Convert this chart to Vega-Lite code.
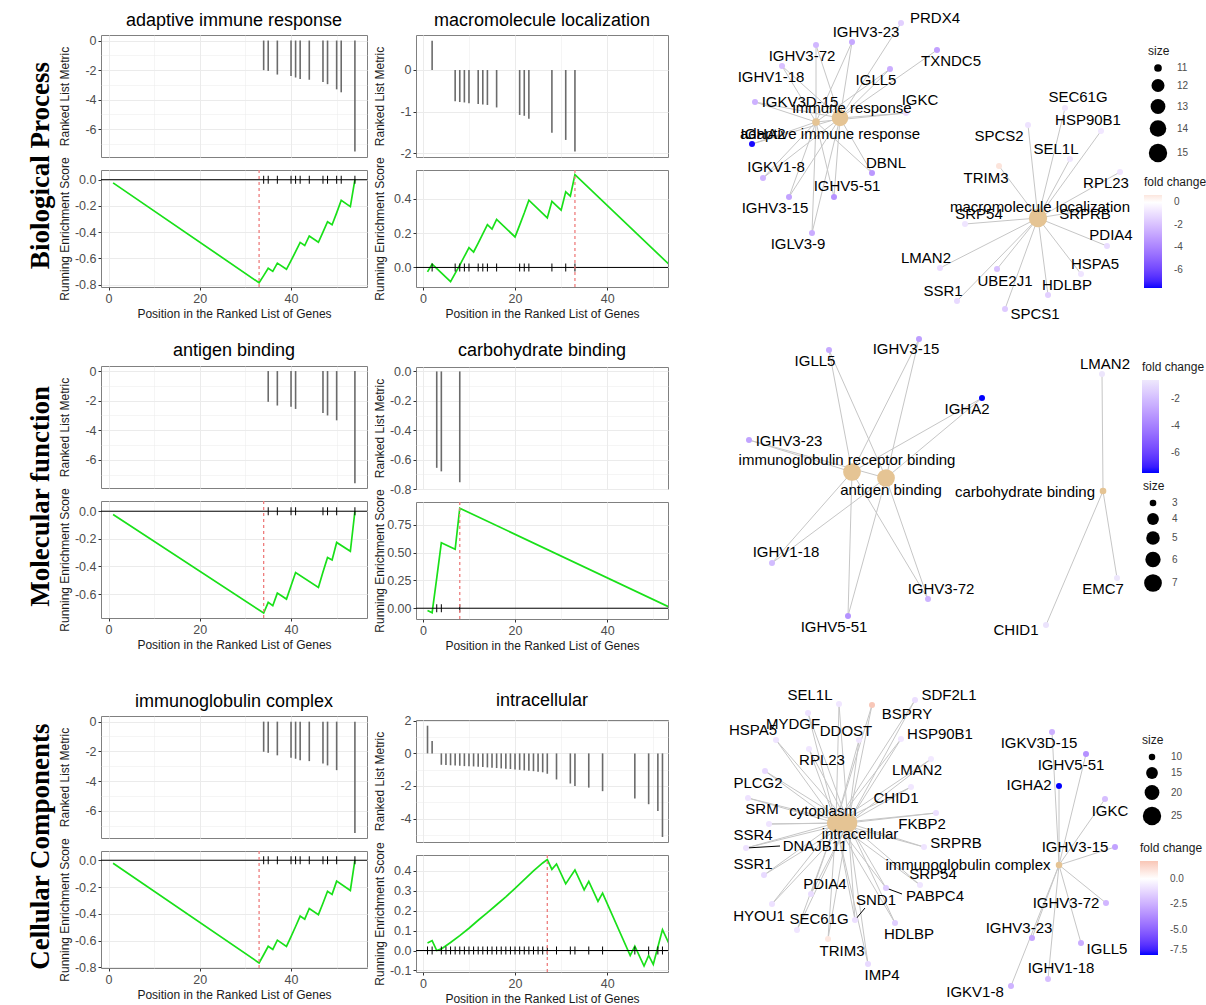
{
"$schema": "https://vega.github.io/schema/vega-lite/v6.json",
"background": "white",
"padding": {"left": 26, "top": 11, "right": 5, "bottom": 0},
"config": {
  "font": "Liberation Sans",
  "view": {"stroke": "#808080"},
  "axis": {"labelFont": "Liberation Sans", "titleFont": "Liberation Sans", "labelFontSize": 12.5, "labelColor": "#4D4D4D", "titleFontSize": 12, "titleFontWeight": "normal", "titleColor": "#1A1A1A", "tickColor": "#333333", "tickSize": 3, "domain": false, "gridColor": "#EBEBEB", "labelPadding": 2, "titlePadding": 4, "labelOverlap": false},
  "axisY": {"titleX": -30},
  "title": {"font": "Liberation Sans", "fontSize": 18, "fontWeight": "normal", "color": "#000000"},
  "legend": {"titleFont": "Liberation Sans", "labelFont": "Liberation Sans", "titleFontSize": 12, "titleFontWeight": "normal", "titleColor": "#1A1A1A", "labelFontSize": 10, "labelColor": "#4D4D4D", "gradientStrokeWidth": 0}
},
"datasets": {
  "a1r": [{"pos":34,"m":-2.0},{"pos":35,"m":-2.05},{"pos":37,"m":-2.3},{"pos":40,"m":-2.4},{"pos":41,"m":-2.5},{"pos":42,"m":-2.6},{"pos":44,"m":-2.65},{"pos":47,"m":-2.8},{"pos":48,"m":-2.95},{"pos":50,"m":-3.3},{"pos":51,"m":-3.5},{"pos":54,"m":-7.5}],
  "a1e": [{"pos":1,"es":-0.024},{"pos":33,"es":-0.786},{"pos":34,"es":-0.731},{"pos":35,"es":-0.675},{"pos":36,"es":-0.699},{"pos":37,"es":-0.636},{"pos":39,"es":-0.683},{"pos":40,"es":-0.617},{"pos":41,"es":-0.549},{"pos":42,"es":-0.478},{"pos":43,"es":-0.502},{"pos":44,"es":-0.429},{"pos":46,"es":-0.477},{"pos":47,"es":-0.40},{"pos":48,"es":-0.32},{"pos":49,"es":-0.343},{"pos":50,"es":-0.253},{"pos":51,"es":-0.157},{"pos":53,"es":-0.205},{"pos":54,"es":0}],
  "b1r": [{"pos":2,"m":0.70},{"pos":7,"m":-0.75},{"pos":8,"m":-0.77},{"pos":9,"m":-0.78},{"pos":10,"m":-0.80},{"pos":12,"m":-0.82},{"pos":13,"m":-0.83},{"pos":14,"m":-0.84},{"pos":16,"m":-0.90},{"pos":21,"m":-1.08},{"pos":22,"m":-1.10},{"pos":23,"m":-1.17},{"pos":28,"m":-1.51},{"pos":31,"m":-1.68},{"pos":33,"m":-1.96}],
  "b1e": [{"pos":1,"es":-0.026},{"pos":2,"es":0.019},{"pos":6,"es":-0.083},{"pos":7,"es":-0.035},{"pos":8,"es":0.014},{"pos":9,"es":0.064},{"pos":10,"es":0.115},{"pos":11,"es":0.09},{"pos":12,"es":0.142},{"pos":13,"es":0.195},{"pos":14,"es":0.249},{"pos":15,"es":0.223},{"pos":16,"es":0.28},{"pos":20,"es":0.178},{"pos":21,"es":0.247},{"pos":22,"es":0.317},{"pos":23,"es":0.392},{"pos":27,"es":0.289},{"pos":28,"es":0.385},{"pos":30,"es":0.334},{"pos":31,"es":0.441},{"pos":32,"es":0.416},{"pos":33,"es":0.541},{"pos":54,"es":0.003}],
  "a2r": [{"pos":35,"m":-2.08},{"pos":37,"m":-2.33},{"pos":40,"m":-2.42},{"pos":41,"m":-2.56},{"pos":47,"m":-2.83},{"pos":48,"m":-3.0},{"pos":50,"m":-3.33},{"pos":54,"m":-7.58}],
  "a2e": [{"pos":1,"es":-0.024},{"pos":34,"es":-0.737},{"pos":35,"es":-0.66},{"pos":36,"es":-0.684},{"pos":37,"es":-0.593},{"pos":39,"es":-0.636},{"pos":40,"es":-0.54},{"pos":41,"es":-0.444},{"pos":46,"es":-0.552},{"pos":47,"es":-0.44},{"pos":48,"es":-0.335},{"pos":49,"es":-0.353},{"pos":50,"es":-0.226},{"pos":53,"es":-0.29},{"pos":54,"es":0}],
  "b2r": [{"pos":3,"m":-0.656},{"pos":4,"m":-0.68},{"pos":8,"m":-0.754}],
  "b2e": [{"pos":1,"es":-0.02},{"pos":2,"es":-0.04},{"pos":3,"es":0.27},{"pos":4,"es":0.59},{"pos":7,"es":0.53},{"pos":8,"es":0.90},{"pos":54,"es":0}],
  "a3r": [{"pos":34,"m":-2.03},{"pos":35,"m":-2.1},{"pos":37,"m":-2.27},{"pos":40,"m":-2.43},{"pos":41,"m":-2.5},{"pos":42,"m":-2.6},{"pos":44,"m":-2.66},{"pos":47,"m":-2.82},{"pos":48,"m":-2.95},{"pos":50,"m":-3.27},{"pos":54,"m":-7.5}],
  "a3e": [{"pos":1,"es":-0.023},{"pos":33,"es":-0.767},{"pos":34,"es":-0.706},{"pos":35,"es":-0.643},{"pos":36,"es":-0.666},{"pos":37,"es":-0.597},{"pos":39,"es":-0.644},{"pos":40,"es":-0.571},{"pos":41,"es":-0.495},{"pos":42,"es":-0.417},{"pos":43,"es":-0.44},{"pos":44,"es":-0.36},{"pos":46,"es":-0.406},{"pos":47,"es":-0.321},{"pos":48,"es":-0.232},{"pos":49,"es":-0.255},{"pos":50,"es":-0.156},{"pos":53,"es":-0.226},{"pos":54,"es":0}],
  "b3r": [{"pos":1,"m":1.70},{"pos":2,"m":0.76},{"pos":4,"m":-0.70},{"pos":5,"m":-0.72},{"pos":6,"m":-0.73},{"pos":7,"m":-0.75},{"pos":8,"m":-0.76},{"pos":9,"m":-0.78},{"pos":10,"m":-0.79},{"pos":11,"m":-0.80},{"pos":12,"m":-0.82},{"pos":13,"m":-0.84},{"pos":14,"m":-0.86},{"pos":15,"m":-0.88},{"pos":16,"m":-0.90},{"pos":17,"m":-0.92},{"pos":18,"m":-0.94},{"pos":19,"m":-0.96},{"pos":20,"m":-0.99},{"pos":21,"m":-1.01},{"pos":22,"m":-1.04},{"pos":23,"m":-1.06},{"pos":24,"m":-1.09},{"pos":25,"m":-1.12},{"pos":26,"m":-1.16},{"pos":27,"m":-1.25},{"pos":29,"m":-1.6},{"pos":32,"m":-1.85},{"pos":33,"m":-2.0},{"pos":36,"m":-2.1},{"pos":39,"m":-2.32},{"pos":46,"m":-2.77},{"pos":49,"m":-3.12},{"pos":51,"m":-3.53},{"pos":52,"m":-5.13}],
  "b3e": [{"pos":1,"es":0.038},{"pos":2,"es":0.05},{"pos":3,"es":0.0},{"pos":4,"es":0.008},{"pos":6,"es":0.04},{"pos":8,"es":0.075},{"pos":10,"es":0.112},{"pos":12,"es":0.152},{"pos":14,"es":0.19},{"pos":16,"es":0.23},{"pos":18,"es":0.27},{"pos":20,"es":0.312},{"pos":22,"es":0.356},{"pos":24,"es":0.40},{"pos":26,"es":0.44},{"pos":27,"es":0.457},{"pos":28,"es":0.408},{"pos":29,"es":0.435},{"pos":31,"es":0.335},{"pos":32,"es":0.37},{"pos":33,"es":0.405},{"pos":35,"es":0.305},{"pos":36,"es":0.347},{"pos":38,"es":0.247},{"pos":39,"es":0.288},{"pos":45,"es":-0.025},{"pos":46,"es":0.022},{"pos":48,"es":-0.078},{"pos":49,"es":-0.025},{"pos":50,"es":-0.07},{"pos":51,"es":0.018},{"pos":52,"es":0.105},{"pos":54,"es":0.005}],
  "n1": [
    {"id":"immune response","kind":"hub","x":837,"y":117,"lx":849,"ly":107,"n":14},
    {"id":"adaptive immune response","kind":"hub","x":813,"y":121,"lx":827,"ly":133,"n":11},
    {"id":"macromolecule localization","kind":"hub","x":1035,"y":217,"lx":1037,"ly":206,"n":15},
    {"id":"PRDX4","kind":"gene","x":898,"y":22,"lx":932,"ly":17,"fc":-1.5},
    {"id":"IGHV3-23","kind":"gene","x":849,"y":41,"lx":863,"ly":31,"fc":-2.8},
    {"id":"IGHV3-72","kind":"gene","x":813,"y":44,"lx":799,"ly":55,"fc":-2.3},
    {"id":"TXNDC5","kind":"gene","x":934,"y":49,"lx":948,"ly":60,"fc":-3.0},
    {"id":"IGHV1-18","kind":"gene","x":779,"y":65,"lx":768,"ly":76,"fc":-2.0},
    {"id":"IGLL5","kind":"gene","x":887,"y":68,"lx":873,"ly":79,"fc":-2.6},
    {"id":"IGKV3D-15","kind":"gene","x":752,"y":101,"lx":797,"ly":101,"fc":-2.5},
    {"id":"IGKC","kind":"gene","x":903,"y":112,"lx":917,"ly":99,"fc":-1.0},
    {"id":"DBNL","kind":"gene","x":869,"y":172,"lx":883,"ly":162,"fc":-3.3},
    {"id":"IGHA2","kind":"gene","x":749,"y":143,"lx":760,"ly":133,"fc":-7.5},
    {"id":"IGKV1-8","kind":"gene","x":760,"y":177,"lx":773,"ly":166,"fc":-2.4},
    {"id":"IGHV5-51","kind":"gene","x":831,"y":196,"lx":844,"ly":185,"fc":-3.5},
    {"id":"IGHV3-15","kind":"gene","x":786,"y":196,"lx":772,"ly":207,"fc":-2.95},
    {"id":"IGLV3-9","kind":"gene","x":809,"y":232,"lx":795,"ly":243,"fc":-2.65},
    {"id":"SEC61G","kind":"gene","x":1062,"y":107,"lx":1075,"ly":96,"fc":-0.8},
    {"id":"HSP90B1","kind":"gene","x":1098,"y":130,"lx":1085,"ly":119,"fc":-0.75},
    {"id":"SPCS2","kind":"gene","x":1025,"y":124,"lx":996,"ly":135,"fc":-0.9},
    {"id":"SEL1L","kind":"gene","x":1067,"y":158,"lx":1053,"ly":148,"fc":-0.77},
    {"id":"TRIM3","kind":"gene","x":996,"y":165,"lx":983,"ly":177,"fc":0.7},
    {"id":"RPL23","kind":"gene","x":1117,"y":171,"lx":1103,"ly":182,"fc":-0.78},
    {"id":"SRP54","kind":"gene","x":962,"y":223,"lx":976,"ly":213,"fc":-0.82},
    {"id":"SRPRB","kind":"gene","x":1090,"y":208,"lx":1082,"ly":213,"fc":-0.83},
    {"id":"PDIA4","kind":"gene","x":1104,"y":245,"lx":1108,"ly":234,"fc":-1.1},
    {"id":"LMAN2","kind":"gene","x":937,"y":267,"lx":923,"ly":257,"fc":-1.08},
    {"id":"HSPA5","kind":"gene","x":1078,"y":273,"lx":1092,"ly":263,"fc":-0.84},
    {"id":"UBE2J1","kind":"gene","x":994,"y":268,"lx":1002,"ly":280,"fc":-1.96},
    {"id":"SSR1","kind":"gene","x":954,"y":300,"lx":940,"ly":290,"fc":-1.17},
    {"id":"HDLBP","kind":"gene","x":1045,"y":294,"lx":1064,"ly":284,"fc":-1.51},
    {"id":"SPCS1","kind":"gene","x":1002,"y":308,"lx":1032,"ly":313,"fc":-1.68}
  ],
  "e1": [
    {"hub":"immune response","gene":"PRDX4"},{"hub":"immune response","gene":"IGHV3-23"},{"hub":"immune response","gene":"IGHV3-72"},{"hub":"immune response","gene":"TXNDC5"},{"hub":"immune response","gene":"IGHV1-18"},{"hub":"immune response","gene":"IGLL5"},{"hub":"immune response","gene":"IGKV3D-15"},{"hub":"immune response","gene":"IGKC"},{"hub":"immune response","gene":"DBNL"},{"hub":"immune response","gene":"IGHA2"},{"hub":"immune response","gene":"IGKV1-8"},{"hub":"immune response","gene":"IGHV5-51"},{"hub":"immune response","gene":"IGHV3-15"},{"hub":"immune response","gene":"IGLV3-9"},
    {"hub":"adaptive immune response","gene":"IGHV3-23"},{"hub":"adaptive immune response","gene":"IGHV3-72"},{"hub":"adaptive immune response","gene":"IGHV1-18"},{"hub":"adaptive immune response","gene":"IGLL5"},{"hub":"adaptive immune response","gene":"IGKV3D-15"},{"hub":"adaptive immune response","gene":"IGKC"},{"hub":"adaptive immune response","gene":"DBNL"},{"hub":"adaptive immune response","gene":"IGHA2"},{"hub":"adaptive immune response","gene":"IGKV1-8"},{"hub":"adaptive immune response","gene":"IGHV5-51"},{"hub":"adaptive immune response","gene":"IGHV3-15"},{"hub":"adaptive immune response","gene":"IGLV3-9"},
    {"hub":"macromolecule localization","gene":"SEC61G"},{"hub":"macromolecule localization","gene":"HSP90B1"},{"hub":"macromolecule localization","gene":"SPCS2"},{"hub":"macromolecule localization","gene":"SEL1L"},{"hub":"macromolecule localization","gene":"TRIM3"},{"hub":"macromolecule localization","gene":"RPL23"},{"hub":"macromolecule localization","gene":"SRP54"},{"hub":"macromolecule localization","gene":"SRPRB"},{"hub":"macromolecule localization","gene":"PDIA4"},{"hub":"macromolecule localization","gene":"LMAN2"},{"hub":"macromolecule localization","gene":"HSPA5"},{"hub":"macromolecule localization","gene":"UBE2J1"},{"hub":"macromolecule localization","gene":"SSR1"},{"hub":"macromolecule localization","gene":"HDLBP"},{"hub":"macromolecule localization","gene":"SPCS1"}
  ],
  "n2": [
    {"id":"immunoglobulin receptor binding","kind":"hub","x":849,"y":471,"lx":844,"ly":459,"n":7},
    {"id":"antigen binding","kind":"hub","x":883,"y":477,"lx":888,"ly":489,"n":7},
    {"id":"carbohydrate binding","kind":"hub","x":1100,"y":490,"lx":1022,"ly":491,"n":3},
    {"id":"IGLL5","kind":"gene","x":826,"y":349,"lx":812,"ly":360,"fc":-2.6},
    {"id":"IGHV3-15","kind":"gene","x":916,"y":338,"lx":903,"ly":348,"fc":-2.95},
    {"id":"IGHA2","kind":"gene","x":979,"y":397,"lx":964,"ly":408,"fc":-7.44},
    {"id":"IGHV3-23","kind":"gene","x":746,"y":439,"lx":786,"ly":440,"fc":-2.8},
    {"id":"IGHV1-18","kind":"gene","x":769,"y":562,"lx":783,"ly":551,"fc":-2.0},
    {"id":"IGHV3-72","kind":"gene","x":925,"y":598,"lx":938,"ly":588,"fc":-2.3},
    {"id":"IGHV5-51","kind":"gene","x":845,"y":615,"lx":831,"ly":626,"fc":-3.33},
    {"id":"LMAN2","kind":"gene","x":1099,"y":373,"lx":1102,"ly":363,"fc":-0.68},
    {"id":"EMC7","kind":"gene","x":1114,"y":577,"lx":1100,"ly":588,"fc":-0.66},
    {"id":"CHID1","kind":"gene","x":1043,"y":624,"lx":1013,"ly":629,"fc":-0.75}
  ],
  "e2": [
    {"hub":"immunoglobulin receptor binding","gene":"IGLL5"},{"hub":"immunoglobulin receptor binding","gene":"IGHV3-15"},{"hub":"immunoglobulin receptor binding","gene":"IGHA2"},{"hub":"immunoglobulin receptor binding","gene":"IGHV3-23"},{"hub":"immunoglobulin receptor binding","gene":"IGHV1-18"},{"hub":"immunoglobulin receptor binding","gene":"IGHV3-72"},{"hub":"immunoglobulin receptor binding","gene":"IGHV5-51"},
    {"hub":"antigen binding","gene":"IGLL5"},{"hub":"antigen binding","gene":"IGHV3-15"},{"hub":"antigen binding","gene":"IGHA2"},{"hub":"antigen binding","gene":"IGHV3-23"},{"hub":"antigen binding","gene":"IGHV1-18"},{"hub":"antigen binding","gene":"IGHV3-72"},{"hub":"antigen binding","gene":"IGHV5-51"},
    {"hub":"carbohydrate binding","gene":"LMAN2"},{"hub":"carbohydrate binding","gene":"EMC7"},{"hub":"carbohydrate binding","gene":"CHID1"}
  ],
  "n3": [
    {"id":"cytoplasm","kind":"hub","x":833,"y":822,"lx":820,"ly":810,"n":25},
    {"id":"intracellular","kind":"hub","x":845,"y":822,"lx":857,"ly":833,"n":26},
    {"id":"immunoglobulin complex","kind":"hub","x":1056,"y":864,"lx":965,"ly":864,"n":10},
    {"id":"SEL1L","kind":"gene","x":836,"y":703,"lx":807,"ly":694,"fc":-0.77},
    {"id":"SDF2L1","kind":"gene","x":912,"y":699,"lx":946,"ly":694,"fc":-1.0},
    {"id":"BSPRY","kind":"gene","x":869,"y":704,"lx":904,"ly":713,"fc":1.7},
    {"id":"MYDGF","kind":"gene","x":805,"y":712,"lx":790,"ly":723,"fc":-0.9},
    {"id":"HSPA5","kind":"gene","x":773,"y":739,"lx":750,"ly":729,"fc":-0.84},
    {"id":"DDOST","kind":"gene","x":856,"y":739,"lx":843,"ly":730,"fc":-0.8},
    {"id":"HSP90B1","kind":"gene","x":898,"y":738,"lx":937,"ly":733,"fc":-0.75},
    {"id":"RPL23","kind":"gene","x":806,"y":748,"lx":819,"ly":759,"fc":-0.78},
    {"id":"LMAN2","kind":"gene","x":928,"y":758,"lx":914,"ly":769,"fc":-0.68},
    {"id":"PLCG2","kind":"gene","x":762,"y":770,"lx":755,"ly":782,"fc":-1.2},
    {"id":"CHID1","kind":"gene","x":908,"y":786,"lx":893,"ly":797,"fc":-0.75},
    {"id":"SRM","kind":"gene","x":745,"y":797,"lx":759,"ly":808,"fc":-0.9},
    {"id":"FKBP2","kind":"gene","x":933,"y":812,"lx":919,"ly":823,"fc":-1.0},
    {"id":"SSR4","kind":"gene","x":766,"y":823,"lx":750,"ly":834,"fc":-0.85},
    {"id":"SRPRB","kind":"gene","x":921,"y":846,"lx":953,"ly":842,"fc":-0.83},
    {"id":"DNAJB11","kind":"gene","x":743,"y":847,"lx":812,"ly":845,"fc":-0.9,"ex":777,"ey":845},
    {"id":"SSR1","kind":"gene","x":761,"y":874,"lx":750,"ly":863,"fc":-1.17},
    {"id":"SRP54","kind":"gene","x":917,"y":884,"lx":930,"ly":873,"fc":-0.82},
    {"id":"PDIA4","kind":"gene","x":808,"y":893,"lx":822,"ly":883,"fc":-1.1},
    {"id":"PABPC4","kind":"gene","x":883,"y":887,"lx":932,"ly":895,"fc":-1.6,"ex":899,"ey":893},
    {"id":"SND1","kind":"gene","x":852,"y":919,"lx":873,"ly":899,"fc":-1.0,"ex":862,"ey":907},
    {"id":"HYOU1","kind":"gene","x":769,"y":903,"lx":756,"ly":915,"fc":-0.95},
    {"id":"SEC61G","kind":"gene","x":794,"y":929,"lx":816,"ly":918,"fc":-0.8},
    {"id":"HDLBP","kind":"gene","x":892,"y":922,"lx":906,"ly":933,"fc":-1.51},
    {"id":"TRIM3","kind":"gene","x":825,"y":938,"lx":839,"ly":950,"fc":0.7},
    {"id":"IMP4","kind":"gene","x":865,"y":963,"lx":879,"ly":974,"fc":-1.2},
    {"id":"IGKV3D-15","kind":"gene","x":1049,"y":731,"lx":1036,"ly":742,"fc":-2.5},
    {"id":"IGHV5-51","kind":"gene","x":1083,"y":753,"lx":1068,"ly":764,"fc":-3.5},
    {"id":"IGHA2","kind":"gene","x":1056,"y":785,"lx":1026,"ly":784,"fc":-7.5},
    {"id":"IGKC","kind":"gene","x":1102,"y":798,"lx":1107,"ly":810,"fc":-2.05},
    {"id":"IGHV3-15","kind":"gene","x":1112,"y":846,"lx":1072,"ly":846,"fc":-2.95},
    {"id":"IGHV3-72","kind":"gene","x":1103,"y":902,"lx":1063,"ly":902,"fc":-2.3},
    {"id":"IGHV3-23","kind":"gene","x":1029,"y":937,"lx":1016,"ly":927,"fc":-2.8},
    {"id":"IGLL5","kind":"gene","x":1078,"y":942,"lx":1104,"ly":948,"fc":-2.6},
    {"id":"IGHV1-18","kind":"gene","x":1045,"y":978,"lx":1058,"ly":967,"fc":-2.0},
    {"id":"IGKV1-8","kind":"gene","x":1008,"y":985,"lx":972,"ly":991,"fc":-2.4}
  ],
  "e3": [
    {"hub":"cytoplasm","gene":"SEL1L"},{"hub":"cytoplasm","gene":"SDF2L1"},{"hub":"cytoplasm","gene":"BSPRY"},{"hub":"cytoplasm","gene":"MYDGF"},{"hub":"cytoplasm","gene":"HSPA5"},{"hub":"cytoplasm","gene":"DDOST"},{"hub":"cytoplasm","gene":"HSP90B1"},{"hub":"cytoplasm","gene":"RPL23"},{"hub":"cytoplasm","gene":"LMAN2"},{"hub":"cytoplasm","gene":"PLCG2"},{"hub":"cytoplasm","gene":"CHID1"},{"hub":"cytoplasm","gene":"SRM"},{"hub":"cytoplasm","gene":"FKBP2"},{"hub":"cytoplasm","gene":"SSR4"},{"hub":"cytoplasm","gene":"SRPRB"},{"hub":"cytoplasm","gene":"DNAJB11"},{"hub":"cytoplasm","gene":"SSR1"},{"hub":"cytoplasm","gene":"SRP54"},{"hub":"cytoplasm","gene":"PDIA4"},{"hub":"cytoplasm","gene":"PABPC4"},{"hub":"cytoplasm","gene":"SND1"},{"hub":"cytoplasm","gene":"HYOU1"},{"hub":"cytoplasm","gene":"SEC61G"},{"hub":"cytoplasm","gene":"HDLBP"},{"hub":"cytoplasm","gene":"TRIM3"},{"hub":"cytoplasm","gene":"IMP4"},
    {"hub":"intracellular","gene":"SEL1L"},{"hub":"intracellular","gene":"SDF2L1"},{"hub":"intracellular","gene":"BSPRY"},{"hub":"intracellular","gene":"MYDGF"},{"hub":"intracellular","gene":"HSPA5"},{"hub":"intracellular","gene":"DDOST"},{"hub":"intracellular","gene":"HSP90B1"},{"hub":"intracellular","gene":"RPL23"},{"hub":"intracellular","gene":"LMAN2"},{"hub":"intracellular","gene":"PLCG2"},{"hub":"intracellular","gene":"CHID1"},{"hub":"intracellular","gene":"SRM"},{"hub":"intracellular","gene":"FKBP2"},{"hub":"intracellular","gene":"SSR4"},{"hub":"intracellular","gene":"SRPRB"},{"hub":"intracellular","gene":"DNAJB11"},{"hub":"intracellular","gene":"SSR1"},{"hub":"intracellular","gene":"SRP54"},{"hub":"intracellular","gene":"PDIA4"},{"hub":"intracellular","gene":"PABPC4"},{"hub":"intracellular","gene":"SND1"},{"hub":"intracellular","gene":"HYOU1"},{"hub":"intracellular","gene":"SEC61G"},{"hub":"intracellular","gene":"HDLBP"},{"hub":"intracellular","gene":"TRIM3"},{"hub":"intracellular","gene":"IMP4"},
    {"hub":"immunoglobulin complex","gene":"IGKV3D-15"},{"hub":"immunoglobulin complex","gene":"IGHV5-51"},{"hub":"immunoglobulin complex","gene":"IGHA2"},{"hub":"immunoglobulin complex","gene":"IGKC"},{"hub":"immunoglobulin complex","gene":"IGHV3-15"},{"hub":"immunoglobulin complex","gene":"IGHV3-72"},{"hub":"immunoglobulin complex","gene":"IGHV3-23"},{"hub":"immunoglobulin complex","gene":"IGLL5"},{"hub":"immunoglobulin complex","gene":"IGHV1-18"},{"hub":"immunoglobulin complex","gene":"IGKV1-8"}
  ]
},
"spacing": 4,
"resolve": {"scale": {"color": "independent", "size": "independent"}},
"hconcat": [
 {"spacing": 41, "vconcat": [
  {"spacing": 21, "vconcat": [
   {"spacing": 13, "bounds": "flush", "title": {"text": "Biological  Process", "orient": "left", "anchor": "middle", "font": "Liberation Serif", "fontSize": 27, "fontWeight": "bold", "color": "#000000", "offset": 3},
    "vconcat": [
     {"width": 266, "height": 122, "title": {"text": "adaptive immune response", "anchor": "middle", "frame": "group", "offset": 5},
      "data": {"name": "a1r"}, "mark": {"type": "rule", "color": "#6B6B6B", "strokeWidth": 1.6},
      "encoding": {
       "x": {"field": "pos", "type": "quantitative", "scale": {"domain": [-1.65, 56.65], "nice": false, "zero": false}, "axis": {"title": null, "labels": false, "ticks": false, "values": [0,10,20,30,40,50], "gridWidth": {"condition": {"test": "datum.value % 20 === 0", "value": 1}, "value": 0.5}}},
       "y": {"field": "m", "type": "quantitative", "scale": {"domain": [-7.875, 0.375], "nice": false, "zero": false}, "axis": {"title": "Ranked List Metric", "labelOverlap": false, "values": [-7,-6,-5,-4,-3,-2,-1,0], "format": "d", "labelExpr": "datum.value % 2 === 0 ? replace(datum.label, '\u2212', '-') : ''", "gridWidth": {"condition": {"test": "datum.value % 2 === 0", "value": 1}, "value": 0.5}, "tickOpacity": {"condition": {"test": "datum.value % 2 === 0", "value": 1}, "value": 0}}},
       "y2": {"datum": 0}}},
     {"width": 266, "height": 117, "layer": [
      {"data": {"name": "a1e"}, "mark": {"type": "line", "color": "#19E019", "strokeWidth": 1.7, "clip": true},
       "encoding": {
        "x": {"field": "pos", "type": "quantitative", "scale": {"domain": [-1.65, 56.65], "nice": false, "zero": false}, "axis": {"title": "Position in the Ranked List of Genes", "labelOverlap": false, "values": [0,10,20,30,40,50], "format": "d", "labelExpr": "datum.value % 20 === 0 ? datum.label : ''", "gridWidth": {"condition": {"test": "datum.value % 20 === 0", "value": 1}, "value": 0.5}, "tickOpacity": {"condition": {"test": "datum.value % 20 === 0", "value": 1}, "value": 0}}},
        "y": {"field": "es", "type": "quantitative", "scale": {"domain": [-0.818, 0.074], "nice": false, "zero": false}, "axis": {"title": "Running Enrichment Score", "labelOverlap": false, "values": [-0.8,-0.6,-0.4,-0.2,0], "format": ".1f", "labelExpr": "replace(datum.label, '\u2212', '-')"}}}},
      {"data": {"values": [{"z": 0}]}, "mark": {"type": "rule", "color": "#000000", "strokeWidth": 1}, "encoding": {"y": {"field": "z", "type": "quantitative", "axis": {"title": "Running Enrichment Score", "labelOverlap": false, "values": [-0.8,-0.6,-0.4,-0.2,0], "format": ".1f", "labelExpr": "replace(datum.label, '\u2212', '-')"}}}},
      {"data": {"name": "a1r"}, "mark": {"type": "tick", "orient": "vertical", "color": "#000000", "thickness": 1, "size": 8, "opacity": 1}, "encoding": {"x": {"field": "pos", "type": "quantitative"}, "y": {"datum": 0, "axis": {"title": "Running Enrichment Score", "labelOverlap": false, "values": [-0.8,-0.6,-0.4,-0.2,0], "format": ".1f", "labelExpr": "replace(datum.label, '\u2212', '-')"}}}},
      {"data": {"values": [{"peak": 33}]}, "mark": {"type": "rule", "color": "#EE7D7D", "strokeDash": [3, 3], "strokeWidth": 1.3}, "encoding": {"x": {"field": "peak", "type": "quantitative"}}}
     ]}
    ]},
   {"spacing": 13, "bounds": "flush", "title": {"text": "Molecular function", "orient": "left", "anchor": "middle", "font": "Liberation Serif", "fontSize": 27, "fontWeight": "bold", "color": "#000000", "offset": 3},
    "vconcat": [
     {"width": 266, "height": 122, "title": {"text": "antigen binding", "anchor": "middle", "frame": "group", "offset": 5},
      "data": {"name": "a2r"}, "mark": {"type": "rule", "color": "#6B6B6B", "strokeWidth": 1.6},
      "encoding": {
       "x": {"field": "pos", "type": "quantitative", "scale": {"domain": [-1.65, 56.65], "nice": false, "zero": false}, "axis": {"title": null, "labels": false, "ticks": false, "values": [0,10,20,30,40,50], "gridWidth": {"condition": {"test": "datum.value % 20 === 0", "value": 1}, "value": 0.5}}},
       "y": {"field": "m", "type": "quantitative", "scale": {"domain": [-7.9, 0.34], "nice": false, "zero": false}, "axis": {"title": "Ranked List Metric", "labelOverlap": false, "values": [-7,-6,-5,-4,-3,-2,-1,0], "format": "d", "labelExpr": "datum.value % 2 === 0 ? replace(datum.label, '\u2212', '-') : ''", "gridWidth": {"condition": {"test": "datum.value % 2 === 0", "value": 1}, "value": 0.5}, "tickOpacity": {"condition": {"test": "datum.value % 2 === 0", "value": 1}, "value": 0}}},
       "y2": {"datum": 0}}},
     {"width": 266, "height": 117, "layer": [
      {"data": {"name": "a2e"}, "mark": {"type": "line", "color": "#19E019", "strokeWidth": 1.7, "clip": true},
       "encoding": {
        "x": {"field": "pos", "type": "quantitative", "scale": {"domain": [-1.65, 56.65], "nice": false, "zero": false}, "axis": {"title": "Position in the Ranked List of Genes", "labelOverlap": false, "values": [0,10,20,30,40,50], "format": "d", "labelExpr": "datum.value % 20 === 0 ? datum.label : ''", "gridWidth": {"condition": {"test": "datum.value % 20 === 0", "value": 1}, "value": 0.5}, "tickOpacity": {"condition": {"test": "datum.value % 20 === 0", "value": 1}, "value": 0}}},
        "y": {"field": "es", "type": "quantitative", "scale": {"domain": [-0.773, 0.074], "nice": false, "zero": false}, "axis": {"title": "Running Enrichment Score", "labelOverlap": false, "values": [-0.6,-0.4,-0.2,0], "format": ".1f", "labelExpr": "replace(datum.label, '\u2212', '-')"}}}},
      {"data": {"values": [{"z": 0}]}, "mark": {"type": "rule", "color": "#000000", "strokeWidth": 1}, "encoding": {"y": {"field": "z", "type": "quantitative", "axis": {"title": "Running Enrichment Score", "labelOverlap": false, "values": [-0.6,-0.4,-0.2,0], "format": ".1f", "labelExpr": "replace(datum.label, '\u2212', '-')"}}}},
      {"data": {"name": "a2r"}, "mark": {"type": "tick", "orient": "vertical", "color": "#000000", "thickness": 1, "size": 8, "opacity": 1}, "encoding": {"x": {"field": "pos", "type": "quantitative"}, "y": {"datum": 0, "axis": {"title": "Running Enrichment Score", "labelOverlap": false, "values": [-0.6,-0.4,-0.2,0], "format": ".1f", "labelExpr": "replace(datum.label, '\u2212', '-')"}}}},
      {"data": {"values": [{"peak": 34}]}, "mark": {"type": "rule", "color": "#EE7D7D", "strokeDash": [3, 3], "strokeWidth": 1.3}, "encoding": {"x": {"field": "peak", "type": "quantitative"}}}
     ]}
    ]}
  ]},
  {"spacing": 13, "bounds": "flush", "title": {"text": "Cellular Components", "orient": "left", "anchor": "middle", "font": "Liberation Serif", "fontSize": 27, "fontWeight": "bold", "color": "#000000", "offset": 3},
   "vconcat": [
    {"width": 266, "height": 122, "title": {"text": "immunoglobulin complex", "anchor": "middle", "frame": "group", "offset": 5},
     "data": {"name": "a3r"}, "mark": {"type": "rule", "color": "#6B6B6B", "strokeWidth": 1.6},
     "encoding": {
      "x": {"field": "pos", "type": "quantitative", "scale": {"domain": [-1.65, 56.65], "nice": false, "zero": false}, "axis": {"title": null, "labels": false, "ticks": false, "values": [0,10,20,30,40,50], "gridWidth": {"condition": {"test": "datum.value % 20 === 0", "value": 1}, "value": 0.5}}},
      "y": {"field": "m", "type": "quantitative", "scale": {"domain": [-7.84, 0.38], "nice": false, "zero": false}, "axis": {"title": "Ranked List Metric", "labelOverlap": false, "values": [-7,-6,-5,-4,-3,-2,-1,0], "format": "d", "labelExpr": "datum.value % 2 === 0 ? replace(datum.label, '\u2212', '-') : ''", "gridWidth": {"condition": {"test": "datum.value % 2 === 0", "value": 1}, "value": 0.5}, "tickOpacity": {"condition": {"test": "datum.value % 2 === 0", "value": 1}, "value": 0}}},
      "y2": {"datum": 0}}},
    {"width": 266, "height": 117, "layer": [
     {"data": {"name": "a3e"}, "mark": {"type": "line", "color": "#19E019", "strokeWidth": 1.7, "clip": true},
      "encoding": {
       "x": {"field": "pos", "type": "quantitative", "scale": {"domain": [-1.65, 56.65], "nice": false, "zero": false}, "axis": {"title": "Position in the Ranked List of Genes", "labelOverlap": false, "values": [0,10,20,30,40,50], "format": "d", "labelExpr": "datum.value % 20 === 0 ? datum.label : ''", "gridWidth": {"condition": {"test": "datum.value % 20 === 0", "value": 1}, "value": 0.5}, "tickOpacity": {"condition": {"test": "datum.value % 20 === 0", "value": 1}, "value": 0}}},
       "y": {"field": "es", "type": "quantitative", "scale": {"domain": [-0.805, 0.069], "nice": false, "zero": false}, "axis": {"title": "Running Enrichment Score", "labelOverlap": false, "values": [-0.8,-0.6,-0.4,-0.2,0], "format": ".1f", "labelExpr": "replace(datum.label, '\u2212', '-')"}}}},
     {"data": {"values": [{"z": 0}]}, "mark": {"type": "rule", "color": "#000000", "strokeWidth": 1}, "encoding": {"y": {"field": "z", "type": "quantitative", "axis": {"title": "Running Enrichment Score", "labelOverlap": false, "values": [-0.8,-0.6,-0.4,-0.2,0], "format": ".1f", "labelExpr": "replace(datum.label, '\u2212', '-')"}}}},
     {"data": {"name": "a3r"}, "mark": {"type": "tick", "orient": "vertical", "color": "#000000", "thickness": 1, "size": 8, "opacity": 1}, "encoding": {"x": {"field": "pos", "type": "quantitative"}, "y": {"datum": 0, "axis": {"title": "Running Enrichment Score", "labelOverlap": false, "values": [-0.8,-0.6,-0.4,-0.2,0], "format": ".1f", "labelExpr": "replace(datum.label, '\u2212', '-')"}}}},
     {"data": {"values": [{"peak": 33}]}, "mark": {"type": "rule", "color": "#EE7D7D", "strokeDash": [3, 3], "strokeWidth": 1.3}, "encoding": {"x": {"field": "peak", "type": "quantitative"}}}
    ]}
   ]}
 ]},
 {"spacing": 39, "vconcat": [
  {"spacing": 21, "vconcat": [
   {"spacing": 13, "bounds": "flush", "vconcat": [
     {"width": 252, "height": 122, "title": {"text": "macromolecule localization", "anchor": "middle", "frame": "group", "offset": 5},
      "data": {"name": "b1r"}, "mark": {"type": "rule", "color": "#6B6B6B", "strokeWidth": 1.6},
      "encoding": {
       "x": {"field": "pos", "type": "quantitative", "scale": {"domain": [-1.5, 53.2], "nice": false, "zero": false}, "axis": {"title": null, "labels": false, "ticks": false, "values": [0,10,20,30,40,50], "gridWidth": {"condition": {"test": "datum.value % 20 === 0", "value": 1}, "value": 0.5}}},
       "y": {"field": "m", "type": "quantitative", "scale": {"domain": [-2.09, 0.84], "nice": false, "zero": false}, "axis": {"title": "Ranked List Metric", "labelOverlap": false, "values": [-2,-1.5,-1,-0.5,0,0.5], "format": "d", "labelExpr": "datum.value % 1 === 0 ? replace(datum.label, '\u2212', '-') : ''", "gridWidth": {"condition": {"test": "datum.value % 1 === 0", "value": 1}, "value": 0.5}, "tickOpacity": {"condition": {"test": "datum.value % 1 === 0", "value": 1}, "value": 0}}},
       "y2": {"datum": 0}}},
     {"width": 252, "height": 117, "layer": [
      {"data": {"name": "b1e"}, "mark": {"type": "line", "color": "#19E019", "strokeWidth": 1.7, "clip": true},
       "encoding": {
        "x": {"field": "pos", "type": "quantitative", "scale": {"domain": [-1.5, 53.2], "nice": false, "zero": false}, "axis": {"title": "Position in the Ranked List of Genes", "labelOverlap": false, "values": [0,10,20,30,40,50], "format": "d", "labelExpr": "datum.value % 20 === 0 ? datum.label : ''", "gridWidth": {"condition": {"test": "datum.value % 20 === 0", "value": 1}, "value": 0.5}, "tickOpacity": {"condition": {"test": "datum.value % 20 === 0", "value": 1}, "value": 0}}},
        "y": {"field": "es", "type": "quantitative", "scale": {"domain": [-0.114, 0.568], "nice": false, "zero": false}, "axis": {"title": "Running Enrichment Score", "labelOverlap": false, "values": [0,0.2,0.4], "format": ".1f", "labelExpr": "replace(datum.label, '\u2212', '-')"}}}},
      {"data": {"values": [{"z": 0}]}, "mark": {"type": "rule", "color": "#000000", "strokeWidth": 1}, "encoding": {"y": {"field": "z", "type": "quantitative", "axis": {"title": "Running Enrichment Score", "labelOverlap": false, "values": [0,0.2,0.4], "format": ".1f", "labelExpr": "replace(datum.label, '\u2212', '-')"}}}},
      {"data": {"name": "b1r"}, "mark": {"type": "tick", "orient": "vertical", "color": "#000000", "thickness": 1, "size": 8, "opacity": 1}, "encoding": {"x": {"field": "pos", "type": "quantitative"}, "y": {"datum": 0, "axis": {"title": "Running Enrichment Score", "labelOverlap": false, "values": [0,0.2,0.4], "format": ".1f", "labelExpr": "replace(datum.label, '\u2212', '-')"}}}},
      {"data": {"values": [{"peak": 33}]}, "mark": {"type": "rule", "color": "#EE7D7D", "strokeDash": [3, 3], "strokeWidth": 1.3}, "encoding": {"x": {"field": "peak", "type": "quantitative"}}}
     ]}
   ]},
   {"spacing": 13, "bounds": "flush", "vconcat": [
     {"width": 252, "height": 122, "title": {"text": "carbohydrate binding", "anchor": "middle", "frame": "group", "offset": 5},
      "data": {"name": "b2r"}, "mark": {"type": "rule", "color": "#6B6B6B", "strokeWidth": 1.6},
      "encoding": {
       "x": {"field": "pos", "type": "quantitative", "scale": {"domain": [-1.5, 53.2], "nice": false, "zero": false}, "axis": {"title": null, "labels": false, "ticks": false, "values": [0,10,20,30,40,50], "gridWidth": {"condition": {"test": "datum.value % 20 === 0", "value": 1}, "value": 0.5}}},
       "y": {"field": "m", "type": "quantitative", "scale": {"domain": [-0.8, 0.03], "nice": false, "zero": false}, "axis": {"title": "Ranked List Metric", "labelOverlap": false, "values": [-0.8,-0.7,-0.6,-0.5,-0.4,-0.3,-0.2,-0.1,0], "format": ".1f", "labelExpr": "indexof([-0.8,-0.6,-0.4,-0.2,0], datum.value) >= 0 ? replace(datum.label, '\u2212', '-') : ''", "gridWidth": {"condition": {"test": "indexof([-0.8,-0.6,-0.4,-0.2,0], datum.value) >= 0", "value": 1}, "value": 0.5}, "tickOpacity": {"condition": {"test": "indexof([-0.8,-0.6,-0.4,-0.2,0], datum.value) >= 0", "value": 1}, "value": 0}}},
       "y2": {"datum": 0}}},
     {"width": 252, "height": 117, "layer": [
      {"data": {"name": "b2e"}, "mark": {"type": "line", "color": "#19E019", "strokeWidth": 1.7, "clip": true},
       "encoding": {
        "x": {"field": "pos", "type": "quantitative", "scale": {"domain": [-1.5, 53.2], "nice": false, "zero": false}, "axis": {"title": "Position in the Ranked List of Genes", "labelOverlap": false, "values": [0,10,20,30,40,50], "format": "d", "labelExpr": "datum.value % 20 === 0 ? datum.label : ''", "gridWidth": {"condition": {"test": "datum.value % 20 === 0", "value": 1}, "value": 0.5}, "tickOpacity": {"condition": {"test": "datum.value % 20 === 0", "value": 1}, "value": 0}}},
        "y": {"field": "es", "type": "quantitative", "scale": {"domain": [-0.097, 0.956], "nice": false, "zero": false}, "axis": {"title": "Running Enrichment Score", "labelOverlap": false, "values": [0,0.25,0.5,0.75], "format": ".2f", "labelExpr": "replace(datum.label, '\u2212', '-')"}}}},
      {"data": {"values": [{"z": 0}]}, "mark": {"type": "rule", "color": "#000000", "strokeWidth": 1}, "encoding": {"y": {"field": "z", "type": "quantitative", "axis": {"title": "Running Enrichment Score", "labelOverlap": false, "values": [0,0.25,0.5,0.75], "format": ".2f", "labelExpr": "replace(datum.label, '\u2212', '-')"}}}},
      {"data": {"name": "b2r"}, "mark": {"type": "tick", "orient": "vertical", "color": "#000000", "thickness": 1, "size": 8, "opacity": 1}, "encoding": {"x": {"field": "pos", "type": "quantitative"}, "y": {"datum": 0, "axis": {"title": "Running Enrichment Score", "labelOverlap": false, "values": [0,0.25,0.5,0.75], "format": ".2f", "labelExpr": "replace(datum.label, '\u2212', '-')"}}}},
      {"data": {"values": [{"peak": 8}]}, "mark": {"type": "rule", "color": "#EE7D7D", "strokeDash": [3, 3], "strokeWidth": 1.3}, "encoding": {"x": {"field": "peak", "type": "quantitative"}}}
     ]}
   ]}
  ]},
  {"spacing": 13, "bounds": "flush", "vconcat": [
    {"width": 252, "height": 122, "title": {"text": "intracellular", "anchor": "middle", "frame": "group", "offset": 5},
     "data": {"name": "b3r"}, "mark": {"type": "rule", "color": "#6B6B6B", "strokeWidth": 1.6},
     "encoding": {
      "x": {"field": "pos", "type": "quantitative", "scale": {"domain": [-1.5, 53.2], "nice": false, "zero": false}, "axis": {"title": null, "labels": false, "ticks": false, "values": [0,10,20,30,40,50], "gridWidth": {"condition": {"test": "datum.value % 20 === 0", "value": 1}, "value": 0.5}}},
      "y": {"field": "m", "type": "quantitative", "scale": {"domain": [-5.44, 2.05], "nice": false, "zero": false}, "axis": {"title": "Ranked List Metric", "labelOverlap": false, "values": [-5,-4,-3,-2,-1,0,1,2], "format": "d", "labelExpr": "datum.value % 2 === 0 ? replace(datum.label, '\u2212', '-') : ''", "gridWidth": {"condition": {"test": "datum.value % 2 === 0", "value": 1}, "value": 0.5}, "tickOpacity": {"condition": {"test": "datum.value % 2 === 0", "value": 1}, "value": 0}}},
      "y2": {"datum": 0}}},
    {"width": 252, "height": 117, "layer": [
     {"data": {"name": "b3e"}, "mark": {"type": "line", "color": "#19E019", "strokeWidth": 1.7, "clip": true},
      "encoding": {
       "x": {"field": "pos", "type": "quantitative", "scale": {"domain": [-1.5, 53.2], "nice": false, "zero": false}, "axis": {"title": "Position in the Ranked List of Genes", "labelOverlap": false, "values": [0,10,20,30,40,50], "format": "d", "labelExpr": "datum.value % 20 === 0 ? datum.label : ''", "gridWidth": {"condition": {"test": "datum.value % 20 === 0", "value": 1}, "value": 0.5}, "tickOpacity": {"condition": {"test": "datum.value % 20 === 0", "value": 1}, "value": 0}}},
       "y": {"field": "es", "type": "quantitative", "scale": {"domain": [-0.108, 0.48], "nice": false, "zero": false}, "axis": {"title": "Running Enrichment Score", "labelOverlap": false, "values": [-0.1,0,0.1,0.2,0.3,0.4], "format": ".1f", "labelExpr": "replace(datum.label, '\u2212', '-')"}}}},
     {"data": {"values": [{"z": 0}]}, "mark": {"type": "rule", "color": "#000000", "strokeWidth": 1}, "encoding": {"y": {"field": "z", "type": "quantitative", "axis": {"title": "Running Enrichment Score", "labelOverlap": false, "values": [-0.1,0,0.1,0.2,0.3,0.4], "format": ".1f", "labelExpr": "replace(datum.label, '\u2212', '-')"}}}},
     {"data": {"name": "b3r"}, "mark": {"type": "tick", "orient": "vertical", "color": "#000000", "thickness": 1, "size": 8, "opacity": 1}, "encoding": {"x": {"field": "pos", "type": "quantitative"}, "y": {"datum": 0, "axis": {"title": "Running Enrichment Score", "labelOverlap": false, "values": [-0.1,0,0.1,0.2,0.3,0.4], "format": ".1f", "labelExpr": "replace(datum.label, '\u2212', '-')"}}}},
     {"data": {"values": [{"peak": 27}]}, "mark": {"type": "rule", "color": "#EE7D7D", "strokeDash": [3, 3], "strokeWidth": 1.3}, "encoding": {"x": {"field": "peak", "type": "quantitative"}}}
    ]}
  ]}
 ]},
 {"spacing": 5, "resolve": {"scale": {"color": "independent", "size": "independent"}}, "vconcat": [
  {"width": 460, "height": 295, "view": {"stroke": null}, "layer": [
    {"data": {"name": "e1"},
     "transform": [{"lookup": "hub", "from": {"data": {"name": "n1"}, "key": "id", "fields": ["x", "y"]}, "as": ["sx", "sy"]}, {"lookup": "gene", "from": {"data": {"name": "n1"}, "key": "id", "fields": ["x", "y"]}, "as": ["tx", "ty"]}],
     "mark": {"type": "rule", "color": "#C6C6C6", "strokeWidth": 1},
     "encoding": {"x": {"field": "sx", "type": "quantitative", "scale": {"domain": [670, 1130], "nice": false, "zero": false}, "axis": null}, "y": {"field": "sy", "type": "quantitative", "scale": {"domain": [34, 329], "nice": false, "zero": false, "reverse": true}, "axis": null}, "x2": {"field": "tx"}, "y2": {"field": "ty"}}},
    {"data": {"name": "n1"}, "transform": [{"filter": "datum.kind === 'hub'"}], "mark": {"type": "circle", "opacity": 1},
     "encoding": {"x": {"field": "x", "type": "quantitative"}, "y": {"field": "y", "type": "quantitative"},
      "fill": {"field": "kind", "type": "nominal", "scale": {"range": ["#E5C494"]}, "legend": null},
      "size": {"field": "n", "type": "quantitative", "scale": {"type": "linear", "domain": [11, 12, 13, 14, 15], "range": [59, 170, 219, 275, 336]}, "legend": {"title": "size", "orient": "none", "legendX": 475, "legendY": 11, "values": [11, 12, 13, 14, 15], "rowPadding": 0, "labelOffset": 9, "titlePadding": 5}}}},
    {"data": {"name": "n1"}, "transform": [{"filter": "datum.kind === 'gene'"}], "mark": {"type": "circle", "size": 36, "opacity": 1},
     "encoding": {"x": {"field": "x", "type": "quantitative"}, "y": {"field": "y", "type": "quantitative"},
      "color": {"field": "fc", "type": "quantitative", "scale": {"domain": [-7.6, 0, 0.65], "range": ["#0000FF", "#FFFFFF", "#FCE6DE"], "interpolate": "lab"}, "legend": {"title": "fold change", "orient": "none", "legendX": 471, "legendY": 142, "values": [0, -2, -4, -6], "format": "d", "labelExpr": "replace(datum.label, '\u2212', '-')", "gradientLength": 93, "gradientThickness": 18, "labelOffset": 12, "titlePadding": 6}}}},
    {"data": {"name": "n1"}, "mark": {"type": "text", "font": "Liberation Sans", "fontSize": 15, "color": "#000000"},
     "encoding": {"x": {"field": "lx", "type": "quantitative"}, "y": {"field": "ly", "type": "quantitative"}, "text": {"field": "id"}}}
  ]},
  {"width": 460, "height": 318, "view": {"stroke": null}, "layer": [
    {"data": {"name": "e2"},
     "transform": [{"lookup": "hub", "from": {"data": {"name": "n2"}, "key": "id", "fields": ["x", "y"]}, "as": ["sx", "sy"]}, {"lookup": "gene", "from": {"data": {"name": "n2"}, "key": "id", "fields": ["x", "y"]}, "as": ["tx", "ty"]}],
     "mark": {"type": "rule", "color": "#C6C6C6", "strokeWidth": 1},
     "encoding": {"x": {"field": "sx", "type": "quantitative", "scale": {"domain": [670, 1130], "nice": false, "zero": false}, "axis": null}, "y": {"field": "sy", "type": "quantitative", "scale": {"domain": [334, 652], "nice": false, "zero": false, "reverse": true}, "axis": null}, "x2": {"field": "tx"}, "y2": {"field": "ty"}}},
    {"data": {"name": "n2"}, "transform": [{"filter": "datum.kind === 'gene'"}], "mark": {"type": "circle", "size": 36, "opacity": 1},
     "encoding": {"x": {"field": "x", "type": "quantitative"}, "y": {"field": "y", "type": "quantitative"},
      "color": {"field": "fc", "type": "quantitative", "scale": {"domain": [-7.44, -0.6], "range": ["#0000FF", "#EEE8FC"], "interpolate": "lab"}, "legend": {"title": "fold change", "orient": "none", "legendX": 469, "legendY": 27, "values": [-2, -4, -6], "format": "d", "labelExpr": "replace(datum.label, '\u2212', '-')", "gradientLength": 93, "gradientThickness": 17, "labelOffset": 12, "titlePadding": 6}}}},
    {"data": {"name": "n2"}, "transform": [{"filter": "datum.kind === 'hub'"}], "mark": {"type": "circle", "opacity": 1},
     "encoding": {"x": {"field": "x", "type": "quantitative"}, "y": {"field": "y", "type": "quantitative"},
      "fill": {"field": "kind", "type": "nominal", "scale": {"range": ["#E5C494"]}, "legend": null},
      "size": {"field": "n", "type": "quantitative", "scale": {"type": "linear", "domain": [3, 4, 5, 6, 7], "range": [44, 139, 184, 235, 314]}, "legend": {"title": "size", "orient": "none", "legendX": 470, "legendY": 146, "values": [3, 4, 5, 6, 7], "rowPadding": 0, "labelOffset": 9, "titlePadding": 5}}}},
    {"data": {"name": "n2"}, "mark": {"type": "text", "font": "Liberation Sans", "fontSize": 15, "color": "#000000"},
     "encoding": {"x": {"field": "lx", "type": "quantitative"}, "y": {"field": "ly", "type": "quantitative"}, "text": {"field": "id"}}}
  ]},
  {"width": 460, "height": 344, "view": {"stroke": null}, "layer": [
    {"data": {"name": "e3"},
     "transform": [{"lookup": "hub", "from": {"data": {"name": "n3"}, "key": "id", "fields": ["x", "y"]}, "as": ["sx", "sy"]}, {"lookup": "gene", "from": {"data": {"name": "n3"}, "key": "id", "fields": ["x", "y"]}, "as": ["tx", "ty"]}],
     "mark": {"type": "rule", "color": "#C6C6C6", "strokeWidth": 1},
     "encoding": {"x": {"field": "sx", "type": "quantitative", "scale": {"domain": [670, 1130], "nice": false, "zero": false}, "axis": null}, "y": {"field": "sy", "type": "quantitative", "scale": {"domain": [657, 1001], "nice": false, "zero": false, "reverse": true}, "axis": null}, "x2": {"field": "tx"}, "y2": {"field": "ty"}}},
    {"data": {"name": "n3"}, "transform": [{"filter": "isValid(datum.ex)"}], "mark": {"type": "rule", "color": "#000000", "strokeWidth": 1},
     "encoding": {"x": {"field": "x", "type": "quantitative"}, "y": {"field": "y", "type": "quantitative"}, "x2": {"field": "ex"}, "y2": {"field": "ey"}}},
    {"data": {"name": "n3"}, "transform": [{"filter": "datum.kind === 'hub'"}], "mark": {"type": "circle", "opacity": 1},
     "encoding": {"x": {"field": "x", "type": "quantitative"}, "y": {"field": "y", "type": "quantitative"},
      "fill": {"field": "kind", "type": "nominal", "scale": {"range": ["#E5C494"]}, "legend": null},
      "size": {"field": "n", "type": "quantitative", "scale": {"type": "linear", "domain": [10, 15, 20, 25, 27], "range": [42, 139, 219, 336, 362]}, "legend": {"title": "size", "orient": "none", "legendX": 469, "legendY": 77, "values": [10, 15, 20, 25], "rowPadding": 0, "labelOffset": 9, "titlePadding": 5}}}},
    {"data": {"name": "n3"}, "transform": [{"filter": "datum.kind === 'gene'"}], "mark": {"type": "circle", "size": 36, "opacity": 1},
     "encoding": {"x": {"field": "x", "type": "quantitative"}, "y": {"field": "y", "type": "quantitative"},
      "color": {"field": "fc", "type": "quantitative", "scale": {"domain": [-7.5, 0, 1.74], "range": ["#0000FF", "#FFFFFF", "#F8C6B6"], "interpolate": "lab"}, "legend": {"title": "fold change", "orient": "none", "legendX": 467, "legendY": 185, "values": [0, -2.5, -5, -7.5], "format": ".1f", "labelExpr": "replace(datum.label, '\u2212', '-')", "gradientLength": 94, "gradientThickness": 18, "labelOffset": 12, "titlePadding": 6}}}},
    {"data": {"name": "n3"}, "mark": {"type": "text", "font": "Liberation Sans", "fontSize": 15, "color": "#000000"},
     "encoding": {"x": {"field": "lx", "type": "quantitative"}, "y": {"field": "ly", "type": "quantitative"}, "text": {"field": "id"}}}
  ]}
 ]}
]
}
